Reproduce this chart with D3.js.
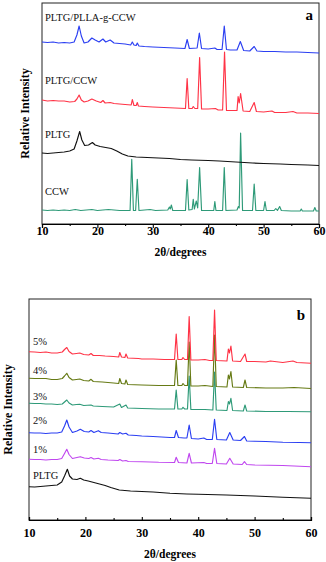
<!DOCTYPE html>
<html>
<head>
<meta charset="utf-8">
<script src="https://cdn.jsdelivr.net/npm/d3@7"></script>
<style>
    body { margin: 0; background: #fff; }
    svg text { font-family: "Liberation Serif", "Times New Roman", "DejaVu Serif", serif; }
</style>
</head>
<body>
<svg id="svg"></svg>
<script>
// 2theta (degrees) vs relative intensity (a.u., curves already stacked)
const xTicks = [10, 20, 30, 40, 50, 60];
const xMinorTicks = [15, 25, 35, 45, 55];

// ---- panel a ----
const ccwA = [
    [10, 14], [11, 13.5], [12, 14], [13, 13.5], [14, 14], [15, 13.5], [16, 14.5], [17, 13.5], [19, 14.5], [20, 13.5],
    [22, 14.5], [24, 13.5], [25.9, 13.5], [26.2, 64.7], [26.5, 13.5], [26.9, 13.5], [27.2, 44.7], [27.5, 13.5],
    [29.5, 14.5], [30.5, 13.5], [32.7, 14], [33.0, 17], [33.15, 15], [33.35, 19], [33.6, 13.5], [35.9, 13.5],
    [36.2, 44.5], [36.5, 14], [37.1, 14.5], [37.3, 24.7], [37.5, 15], [37.85, 23], [38.1, 16], [38.45, 56.5],
    [38.8, 13.5], [41.0, 13.5], [41.2, 22.5], [41.4, 13.5], [42.6, 13.5], [42.9, 56.5], [43.2, 13.5], [45.2, 14],
    [45.45, 17.5], [45.6, 16], [45.85, 91], [46.2, 13.5], [48.0, 13.5], [48.3, 40], [48.6, 13.5], [50.0, 13.5],
    [50.25, 22.5], [50.5, 13.5], [51.9, 13.5], [52.2, 15.5], [52.5, 13.5], [52.9, 17.5], [53.2, 13.5], [55, 13],
    [56.6, 13], [56.8, 15], [57, 13], [59, 13], [59.25, 16.5], [59.5, 13], [60, 13]
];
const pltgA = [
    [10, 71], [11, 70.5], [12, 71], [13, 71.5], [14, 72], [15, 73], [15.8, 75], [16.3, 83], [16.8, 92.5], [17.2, 84],
    [17.7, 78.5], [18.4, 79], [19.1, 81.5], [19.6, 79], [20.5, 77.5], [21.5, 76.5], [22.5, 75.5], [23.5, 73],
    [24.5, 70], [25.5, 68], [27, 67], [29, 66.5], [31, 66], [33, 65.5], [35, 64.5], [37, 64], [40, 63.5], [42, 63],
    [45, 62], [48, 61], [50, 60.5], [53, 60], [55, 59.5], [58, 59], [60, 58.5]
];
const pltgCcwA = [
    [10, 124], [11, 123], [12, 123.5], [13, 123], [14, 123], [15, 122], [15.9, 122.5], [16.3, 125], [16.7, 129],
    [17.1, 124], [17.6, 122], [18.3, 123], [19, 125], [19.8, 123], [20.6, 121.5], [21.0, 123.5], [21.4, 121],
    [22.3, 121.5], [23, 120.5], [24, 120], [25, 119.5], [26.1, 119], [26.3, 124.5], [26.6, 118.5], [27.0, 118.5],
    [27.2, 121.5], [27.4, 118], [28.5, 117.5], [30, 117], [32, 116.5], [34, 116], [35.9, 115.5], [36.2, 145.5],
    [36.5, 115.5], [37.1, 115.5], [37.3, 117.5], [37.6, 115.5], [38.1, 115.5], [38.45, 166.5], [38.8, 115],
    [40, 115], [41.3, 115.5], [41.8, 114], [42.6, 114], [42.95, 172], [43.3, 113.5], [44.5, 113.5], [45.2, 113.5],
    [45.4, 127.5], [45.6, 121], [45.85, 130.5], [46.3, 113], [47.5, 112.5], [48.3, 121.5], [48.7, 112.5],
    [50, 112], [51.5, 113], [52, 111.5], [54, 111.5], [55.3, 112.5], [56, 111], [58, 111], [60, 110.5]
];
const pltgPllaA = [
    [10, 182], [11, 181.5], [12, 182], [13, 181], [14, 181.5], [15, 181], [15.8, 182], [16.3, 189], [16.7, 198],
    [17.1, 188], [17.6, 181], [18.3, 182], [19.0, 186], [19.6, 184], [20.3, 182], [21.0, 185], [21.5, 182],
    [22.3, 184], [23, 181], [24, 180.5], [25, 180], [26.0, 179], [26.3, 182], [26.6, 179], [27.0, 178.5],
    [27.2, 181], [27.5, 178], [28.5, 177.5], [30, 177], [32, 176.5], [34, 176], [35.8, 175.5], [36.2, 184.5],
    [36.6, 175.5], [38.0, 176], [38.4, 191], [38.8, 175.5], [40, 175], [41.2, 176], [41.6, 174.5], [42.5, 174.5],
    [42.9, 198], [43.3, 174.5], [44, 174], [45.2, 174], [45.8, 182.5], [46.4, 173.5], [47.5, 173], [48.3, 177.5],
    [48.8, 173], [50, 172.5], [52, 172.5], [54, 172], [56, 172], [58, 171.5], [60, 171]
];
const seriesA = [ccwA, pltgA, pltgCcwA, pltgPllaA];
const labelsA = ["CCW", "PLTG", "PLTG/CCW", "PLTG/PLLA-g-CCW"];
const labelLevelsA = [29, 86.5, 140, 203.5];

// ---- panel b ----
const pltgB = [
    [10, 33.3], [11, 33], [12, 33.5], [13, 34], [14, 34.5], [15, 35], [15.8, 38], [16.3, 44], [16.8, 50.7], [17.2, 44],
    [17.7, 41], [18.5, 40.5], [19.1, 41.7], [19.7, 40], [20.5, 39], [21.5, 37.5], [22.5, 36], [23.5, 34.5],
    [24.5, 32.5], [26, 30], [28, 29], [30, 28.5], [32, 28], [35, 26.7], [38, 26], [40, 25.7], [45, 25],
    [50, 24], [55, 22.7], [60, 21.7]
];
const pct1B = [
    [10, 60.7], [11, 60.5], [12, 60.5], [13, 60], [14, 60.5], [15, 60.5], [15.8, 61.5], [16.3, 66.5], [16.7, 70.7],
    [17.1, 65.5], [17.7, 61.5], [18.5, 62.5], [19.1, 63.3], [19.8, 62], [20.6, 61.5], [21.0, 62.5], [21.5, 61],
    [22.3, 61.7], [22.8, 60.5], [24, 60], [25.8, 59.5], [26.1, 60.5], [26.6, 59], [27.2, 59.5], [27.6, 58.5],
    [30, 58.3], [33, 57.7], [35.8, 57.5], [36.1, 62.7], [36.5, 57.5], [38.0, 57], [38.4, 66.7], [38.8, 57],
    [41, 57.5], [41.5, 56.5], [42.5, 56.5], [42.9, 71.7], [43.3, 56.5], [45, 56], [45.6, 61.7], [46.2, 56],
    [47.8, 55.5], [48.2, 58.3], [48.6, 55.5], [50, 55], [55, 54.5], [60, 53.3]
];
const pct2B = [
    [10, 87.3], [11, 87], [12, 87], [13, 86.5], [14, 87], [15, 87], [15.8, 88], [16.3, 94], [16.7, 100], [17.1, 93],
    [17.7, 87.5], [18.5, 89], [19.1, 90.7], [19.8, 88.5], [20.6, 88], [21.0, 89.5], [21.5, 87.5], [22.3, 89.3],
    [22.8, 87.5], [24, 87], [25.8, 86], [26.1, 87.5], [26.6, 86], [27.2, 86.7], [27.6, 85], [29, 84.5], [30, 84],
    [32, 83.5], [35, 82.5], [35.8, 82.5], [36.1, 89.5], [36.5, 82.5], [37.5, 82], [38.0, 82], [38.4, 95],
    [38.8, 81.5], [40, 81], [41, 82], [41.5, 80.5], [42.5, 80.5], [42.9, 100.7], [43.3, 80.5], [45, 80],
    [45.6, 87.5], [46.2, 80], [47.5, 79.5], [48.2, 83.5], [48.6, 79], [50, 78.7], [52, 78.5], [55, 77.7],
    [58, 77.5], [60, 77.3]
];
const pct3B = [
    [10, 116.7], [11, 116.5], [12, 116.5], [13, 116], [14, 116], [15, 115.5], [15.9, 116], [16.3, 118], [16.7, 120],
    [17.1, 117], [17.7, 115], [18.4, 115.5], [19.0, 115.7], [19.7, 114.5], [21.0, 115], [21.4, 114], [23, 113.5],
    [25, 113], [26.1, 116], [26.4, 112.5], [27.2, 115], [27.5, 112], [30, 111.5], [33, 111], [35.8, 111],
    [36.1, 130], [36.4, 111], [37.1, 111], [37.3, 112.7], [37.6, 111], [38.1, 111], [38.4, 144], [38.7, 110.5],
    [41.2, 110.5], [42.6, 110], [42.9, 148], [43.2, 110], [45.1, 109.5], [45.35, 118.5], [45.55, 116],
    [45.8, 121.7], [46.1, 109.5], [48.0, 109], [48.3, 115], [48.6, 109], [52, 108.5], [56, 108.5], [60, 108.3]
];
const pct4B = [
    [10, 141.7], [11, 141.5], [12, 141.5], [13, 141.5], [14, 140.5], [15, 140.5], [15.9, 141.5], [16.3, 144],
    [16.7, 146.7], [17.1, 142.5], [17.7, 140], [18.4, 140.5], [19.0, 141], [19.7, 139.5], [20.6, 139],
    [21.0, 140.7], [21.4, 138.5], [23, 138], [25, 137], [25.9, 136.5], [26.1, 141.5], [26.4, 136.5], [27.0, 136],
    [27.2, 140], [27.5, 135.5], [30, 135], [33, 134.5], [35.8, 134.5], [36.1, 160], [36.4, 134.5], [37.1, 134.5],
    [37.3, 136.5], [37.6, 134.5], [38.1, 134.5], [38.4, 178], [38.7, 134], [40, 134], [41.2, 134.5],
    [42.6, 133.5], [42.9, 185], [43.2, 133.5], [45.1, 133], [45.35, 145], [45.55, 141], [45.8, 148.5],
    [46.1, 133], [48.0, 132.5], [48.3, 140], [48.6, 132.5], [52, 132], [55, 132], [57, 132.5], [60, 131.5]
];
const pct5B = [
    [10, 168.3], [11, 168], [12, 167.5], [13, 168], [14, 167], [15, 167], [15.9, 168], [16.3, 170.5], [16.7, 172.5],
    [17.1, 168.5], [17.7, 166], [18.4, 166.5], [19.0, 167], [19.7, 165.5], [20.6, 165], [21.0, 166.5],
    [21.4, 164.5], [22.5, 164.5], [23.5, 164], [25, 163.5], [25.9, 163], [26.1, 167.5], [26.4, 163], [27.0, 162.5],
    [27.2, 166], [27.5, 162], [29.4, 161.5], [30, 161], [32, 161], [34, 160.5], [35.8, 160.5], [36.1, 186],
    [36.4, 160.5], [37.1, 160.5], [37.3, 162.5], [37.6, 160.5], [38.1, 160.5], [38.4, 203.5], [38.7, 160],
    [40, 160], [41.2, 160.5], [42, 159.5], [42.6, 159.5], [42.9, 210], [43.2, 159.5], [45.1, 159],
    [45.35, 171], [45.55, 167], [45.8, 174], [46.1, 159], [47.5, 158.5], [48.3, 166], [48.6, 158.5],
    [50, 158.5], [52, 158], [52.8, 159], [55, 157.5], [56.8, 159], [57.5, 157.5], [60, 156.7]
];
const seriesB = [pltgB, pct1B, pct2B, pct3B, pct4B, pct5B];
const labelsB = ["PLTG", "1%", "2%", "3%", "4%", "5%"];
const labelLevelsB = [41, 67, 96, 120, 146, 175];

const width = 326;
const height = 562;
const serif = "'Liberation Serif', 'Times New Roman', serif";

let svg = d3.select("#svg")
    .attr("width", width)
    .attr("height", height);

const colorsA = ["#2e9a78", "#111111", "#ff3346", "#2b3ff2"];
const colorsB = ["#111111", "#c047ef", "#2b3ff2", "#2e9a78", "#667a14", "#ff3346"];

function drawPanel(opts) {
    let xScale = d3.scaleLinear()
        .domain([10, 60])
        .range([opts.left, opts.right]);
    let yScale = d3.scaleLinear()
        .domain([0, 221])
        .range([opts.bottom, opts.top]);

    let g = svg.append("g");

    // frame
    g.append("rect")
        .attr("x", opts.left)
        .attr("y", opts.top)
        .attr("width", opts.right - opts.left)
        .attr("height", opts.bottom - opts.top)
        .attr("fill", "none")
        .attr("stroke", "#222")
        .attr("stroke-width", 1);

    let line = d3.line()
        .x(d => xScale(d[0]))
        .y(d => yScale(d[1]));

    opts.series.forEach((s, i) => {
        g.append("path")
            .datum(s)
            .attr("d", line)
            .attr("fill", "none")
            .attr("stroke", opts.colors[i])
            .attr("stroke-width", 1.15)
            .attr("stroke-linejoin", "round");
    });

    // series labels
    opts.labels.forEach((lab, i) => {
        g.append("text")
            .attr("x", opts.labelX)
            .attr("y", yScale(opts.labelLevels[i]))
            .style("font-family", serif)
            .style("font-size", "10.5px")
            .style("fill", "#111")
            .text(lab);
    });

    // x axis, major and minor ticks
    let axis = g.append("g")
        .attr("transform", `translate(0,${opts.bottom})`)
        .call(d3.axisBottom(xScale).tickValues(xTicks).tickSize(opts.tickMajor).tickFormat(d3.format("d")));
    axis.select(".domain").attr("stroke", "#000").attr("stroke-width", 1.2);
    axis.selectAll(".tick line").attr("stroke", "#000").attr("stroke-width", 1.1);
    axis.selectAll(".tick text")
        .attr("y", opts.tickTextY)
        .attr("dy", 0)
        .style("font-size", "12px")
        .style("font-weight", "bold")
        .style("font-family", serif)
        .style("fill", "#000");

    let minor = g.append("g")
        .attr("transform", `translate(0,${opts.bottom})`)
        .call(d3.axisBottom(xScale).tickValues(xMinorTicks).tickSize(opts.tickMinor).tickFormat(""));
    minor.select(".domain").remove();
    minor.selectAll(".tick line").attr("stroke", "#000").attr("stroke-width", 1.1);

    // axis titles
    g.append("text")
        .attr("x", (opts.left + opts.right) / 2)
        .attr("y", opts.xTitleY)
        .attr("text-anchor", "middle")
        .style("font-family", serif)
        .style("font-size", "11.5px")
        .style("font-weight", "bold")
        .text("2θ/degrees");

    g.append("text")
        .attr("transform", `translate(${opts.yTitleX},${(opts.top + opts.bottom) / 2}) rotate(-90)`)
        .attr("text-anchor", "middle")
        .style("font-family", serif)
        .style("font-size", "12px")
        .style("font-weight", "bold")
        .text("Relative Intensity");

    // panel letter
    g.append("text")
        .attr("x", opts.letterX)
        .attr("y", opts.letterY)
        .attr("text-anchor", "end")
        .style("font-family", serif)
        .style("font-size", "15px")
        .style("font-weight", "bold")
        .text(opts.letter);
}

drawPanel({
    left: 42, right: 319, top: 3, bottom: 224,
    series: seriesA, colors: colorsA,
    labels: labelsA, labelLevels: labelLevelsA, labelX: 45,
    tickMajor: 4, tickMinor: 2, tickTextY: 11,
    xTitleY: 256, yTitleX: 29,
    letter: "a", letterX: 313, letterY: 19.5
});

drawPanel({
    left: 29, right: 311, top: 299, bottom: 520,
    series: seriesB, colors: colorsB,
    labels: labelsB, labelLevels: labelLevelsB, labelX: 33,
    tickMajor: -3, tickMinor: -2, tickTextY: 16.5,
    xTitleY: 558, yTitleX: 12,
    letter: "b", letterX: 305, letterY: 319.5
});
</script>
</body>
</html>
